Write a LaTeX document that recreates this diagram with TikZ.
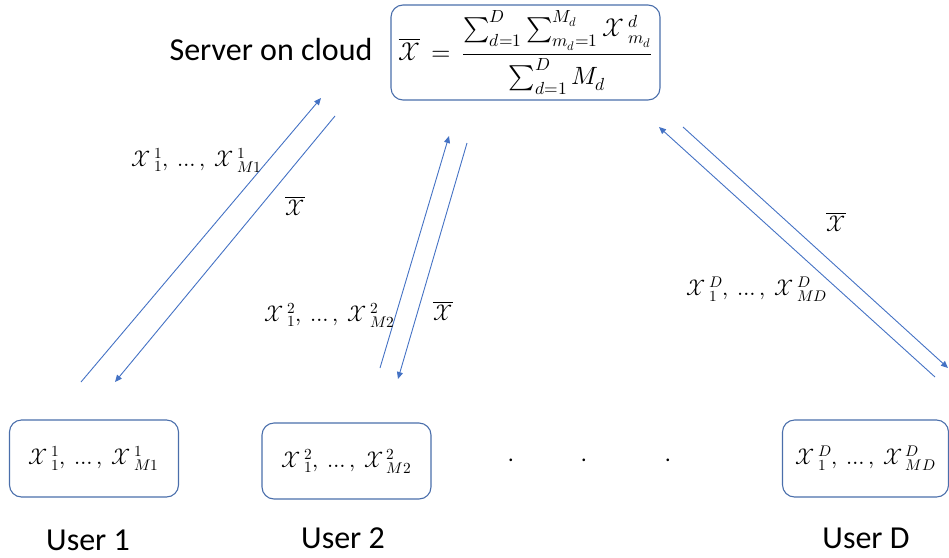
\documentclass[tikz,border=0pt]{standalone}
\usepackage{unicode-math}
\setmainfont{Carlito}
\setmathfont{Latin Modern Math}
\usetikzlibrary{arrows.meta}
\definecolor{boxblue}{HTML}{4A6EAB}
\definecolor{arrblue}{HTML}{4472C4}
\newcommand\Xsc[2]{\mathcal{X}\,{}^{#1}_{#2}}
\newcommand\Xlist[3]{\Xsc{#1}{#2},\ \ldots,\ \Xsc{#1}{#3}}
\tikzset{
  rbox/.style={draw=boxblue, line width=1.1pt, rounded corners=12pt, inner sep=0pt},
  lbl/.style={font=\fontsize{32}{38}\selectfont, inner sep=0pt},
  mth/.style={font=\fontsize{22}{26}\selectfont, inner sep=0pt},
  flow/.style={draw=arrblue, line width=0.9pt, -{Triangle[length=7pt,width=6pt]}},
}
\begin{document}
\begin{tikzpicture}[x=1pt,y=-1pt]
\path[use as bounding box] (0,0) rectangle (949,557);

% server
\node[rbox, minimum width=269pt, minimum height=95pt, font=\fontsize{25}{30}\selectfont] (srv) at (525.5,52.5)
  {$\displaystyle \overline{\mathcal{X}} \,=\, \frac{\sum_{d=1}^{D}\sum_{m_d=1}^{M_d}\Xsc{d}{m_d}}{\sum_{d=1}^{D} M_d}$};
\node[lbl] (srvlbl) at (271,50) {Server on cloud};

% users
\node[rbox, mth, minimum width=169pt, minimum height=77pt] (u1) at (94,458.5) {$\Xlist{1}{1}{M1}$};
\node[rbox, mth, minimum width=169pt, minimum height=76pt] (u2) at (346.5,461) {$\Xlist{2}{1}{M2}$};
\node[rbox, mth, minimum width=166pt, minimum height=77pt] (uD) at (865.5,458.5) {$\Xlist{D}{1}{MD}$};

\node[lbl] (n1) at (88,540) {User 1};
\node[lbl] (n2) at (343,538) {User 2};
\node[lbl] (nD) at (866,538) {User D};

% dots
\node[mth] (d1) at (511,460) {.};
\node[mth] (d2) at (584,460) {.};
\node[mth] (d3) at (668,460) {.};

% arrow end points
\coordinate (a1s) at (81,382);
\coordinate (a1e) at (321,98);
\coordinate (b1s) at (335,116);
\coordinate (b1e) at (115,382);
\coordinate (a2s) at (380,368);
\coordinate (a2e) at (449,136);
\coordinate (b2s) at (467,143);
\coordinate (b2e) at (398,379);
\coordinate (aDs) at (935,377);
\coordinate (aDe) at (659,127);
\coordinate (bDs) at (683,127);
\coordinate (bDe) at (948,368);

\draw[flow] (a1s) -- (a1e);
\draw[flow] (b1s) -- (b1e);
\draw[flow] (a2s) -- (a2e);
\draw[flow] (b2s) -- (b2e);
\draw[flow] (aDs) -- (aDe);
\draw[flow] (bDs) -- (bDe);

% labels on arrows
\node[mth] (l1) at (197,160) {$\Xlist{1}{1}{M1}$};
\node[mth] (m1) at (295,206) {$\overline{\mathcal{X}}$};
\node[mth] (l2) at (330,315) {$\Xlist{2}{1}{M2}$};
\node[mth] (m2) at (443,311) {$\overline{\mathcal{X}}$};
\node[mth] (lD) at (757,289) {$\Xlist{D}{1}{MD}$};
\node[mth] (mD) at (836,222) {$\overline{\mathcal{X}}$};
\end{tikzpicture}
\end{document}
